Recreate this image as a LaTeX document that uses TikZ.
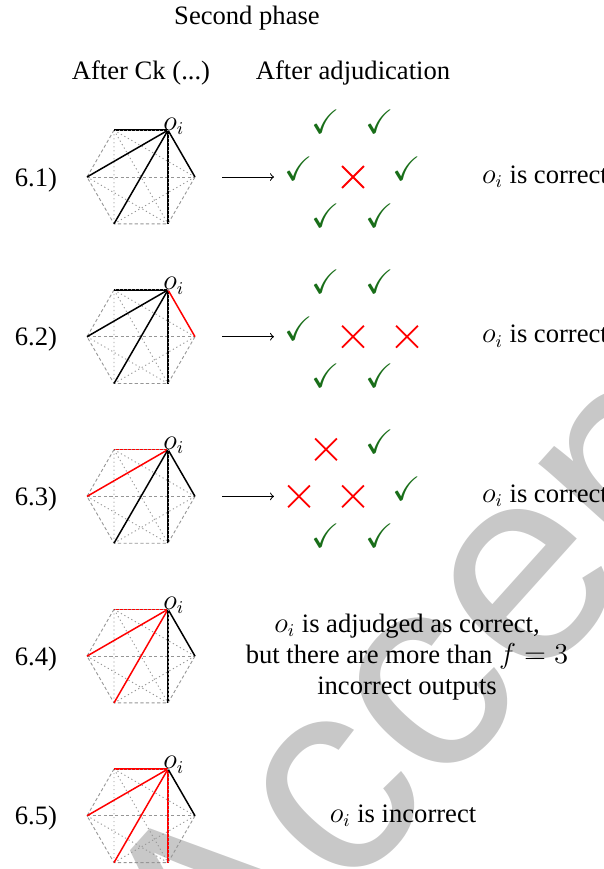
\documentclass[tikz,border=0pt]{standalone}
\usepackage{amssymb}
\usepackage{fontspec}
\setmainfont{Liberation Serif}
\newfontfamily\wmfont{Liberation Sans}
\usetikzlibrary{shapes.misc}
\definecolor{ckgreen}{RGB}{25,110,25}
\definecolor{wmgray}{RGB}{200,200,200}
\definecolor{edgegray}{RGB}{150,150,150}
\tikzset{
  outeredge/.style={edgegray, line width=0.45pt, dash pattern=on 1.6pt off 1.2pt},
  inneredge/.style={edgegray, line width=0.45pt, dash pattern=on 0.6pt off 1.4pt},
  midedge/.style={edgegray, line width=0.45pt, dash pattern=on 1.6pt off 1.2pt},
  coledge/.style={line width=0.75pt},
  okmark/.style={ckgreen, inner sep=0pt, font=\fontsize{17}{17}\selectfont},
  mkok/.style={okmark, yshift=4pt, node contents={$\checkmark$}},
  mkbad/.style={cross out, draw=red, line width=0.9pt, minimum size=10pt, inner sep=0pt, node contents={}},
  rowlabel/.style={anchor=base},
  result/.style={anchor=base west},
  adjarrow/.style={-to, line width=0.5pt},
}
\begin{document}
\begin{tikzpicture}[x=0.5pt, y=-0.5pt, font=\fontsize{13.3}{15.5}\selectfont]
\useasboundingbox (0,0) rectangle (604,869);
\begin{scope}
\clip (0,0) rectangle (604,869);
\node[wmgray, font=\wmfont\fontsize{140}{140}\selectfont, rotate=48, anchor=base west, inner sep=0pt] (wm) at (220,1039) {Accepted};
\end{scope}

\node[anchor=base] (title) at (247,24) {Second phase};
\node[anchor=base] (hck) at (141,79) {After Ck (...)};
\node[anchor=base] (hadj) at (353,79) {After adjudication};

\foreach \r/\yc/\ca/\cb/\cc/\cd/\ce in {1/177/black/black/black/black/black, 2/336.7/black/black/black/black/red, 3/496.4/red/red/black/black/black, 4/656.1/red/red/red/black/black, 5/815.8/red/red/red/red/black}{
  \coordinate (h\r-1) at (168,\yc-46.8);
  \coordinate (h\r-2) at (114,\yc-46.8);
  \coordinate (h\r-3) at (87,\yc);
  \coordinate (h\r-4) at (114,\yc+46.8);
  \coordinate (h\r-5) at (168,\yc+46.8);
  \coordinate (h\r-6) at (195,\yc);
  \draw[outeredge] (h\r-2) -- (h\r-3) -- (h\r-4) -- (h\r-5) -- (h\r-6);
  \draw[inneredge] (h\r-2) -- (h\r-4) (h\r-2) -- (h\r-5) (h\r-2) -- (h\r-6) (h\r-3) -- (h\r-5) (h\r-4) -- (h\r-6);
  \draw[midedge] (h\r-3) -- (h\r-6);
  \draw[coledge, \ca] (h\r-1) -- (h\r-2);
  \draw[coledge, \cb] (h\r-1) -- (h\r-3);
  \draw[coledge, \cc] (h\r-1) -- (h\r-4);
  \draw[coledge, \cd] (h\r-1) -- (h\r-5);
  \draw[coledge, \ce] (h\r-1) -- (h\r-6);
  \draw[inneredge] (h\r-1) -- (h\r-2) (h\r-1) -- (h\r-5);
  \node[anchor=base west, inner sep=0pt] (oi\r) at (163,\yc-47) {$o_i$};
  \node[rowlabel] (lab\r) at (36,\yc+9) {6.\r)};
}

\foreach \r/\yc/\pa/\pb/\pc/\pd/\pe/\pf/\pg in {1/177/ok/ok/ok/bad/ok/ok/ok, 2/336.7/ok/ok/ok/bad/bad/ok/ok, 3/496.4/bad/ok/bad/bad/ok/ok/ok}{
  \coordinate (as\r) at (222,\yc);
  \coordinate (ae\r) at (274,\yc);
  \draw[adjarrow] (as\r) -- (ae\r);
  \node (m\r-1) at (326,\yc-47) [mk\pa];
  \node (m\r-2) at (380,\yc-47) [mk\pb];
  \node (m\r-3) at (299,\yc) [mk\pc];
  \node (m\r-4) at (353,\yc) [mk\pd];
  \node (m\r-5) at (407,\yc) [mk\pe];
  \node (m\r-6) at (326,\yc+47) [mk\pf];
  \node (m\r-7) at (380,\yc+47) [mk\pg];
  \node[result] (res\r) at (475,\yc+6) {$o_i$ is correct};
}

\node[align=center] (res4) at (407,657) {$o_i$ is adjudged as correct,\\ but there are more than $f = 3$\\ incorrect outputs};
\node[anchor=base] (res5) at (403,822) {$o_i$ is incorrect};
\end{tikzpicture}
\end{document}
